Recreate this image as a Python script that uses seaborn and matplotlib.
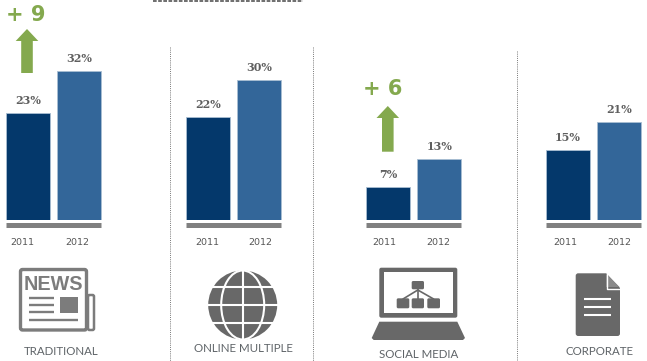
import matplotlib
matplotlib.use("Agg")
import matplotlib.pyplot as plt
import seaborn as sns
import pandas as pd
from matplotlib.patches import Polygon, Rectangle, FancyBboxPatch, Circle, Ellipse

years = ["2011", "2012"]
traditional = [23, 32]
online_multiple = [22, 30]
social_media = [7, 13]
corporate = [15, 21]
group_names = ["TRADITIONAL", "ONLINE MULTIPLE", "SOCIAL MEDIA", "CORPORATE"]
series = [traditional, online_multiple, social_media, corporate]
changes = ["+ 9", None, "+ 6", None]

W, H = 647, 361
DARK, BLUE, GRAY, GREEN, ICON, TXT = "#04386B", "#336699", "#808080", "#84A94E", "#686868", "#5F6468"

sns.set_theme(style="white")
plt.rcParams["font.family"] = ["DejaVu Sans"]
fig = plt.figure(figsize=(W / 100, H / 100), dpi=100, facecolor="white")

PX_PER = 4.67
lefts = [2, 182, 362, 542]
tick_px = [(22.5, 77), (207, 260.5), (384, 438), (565.7, 619)]
for name, vals, left, tp in zip(group_names, series, lefts, tick_px):
    ax = fig.add_axes([left / W, (H - 220) / H, 103 / W, 200 / H])
    df = pd.DataFrame({"year": years, "value": vals})
    sns.barplot(data=df, x="year", y="value", hue="year", palette=[DARK, BLUE], saturation=1,
                width=0.845, legend=False, ax=ax, edgecolor="#A9BED3", linewidth=0.6)
    ax.set_xlim(-0.5, 1.5)
    ax.set_ylim(0, 200 / PX_PER)
    ax.set_xlabel(""); ax.set_ylabel(""); ax.set_yticks([])
    ax.set_xticks([(p - left) / 51.5 - 0.5 for p in tp], years)
    ax.tick_params(axis="x", length=0, pad=9.5, labelsize=6.8, labelcolor="#555555")
    for lab in ax.get_xticklabels():
        lab.set_family("DejaVu Serif")
    for s in ("top", "left", "right"):
        ax.spines[s].set_visible(False)
    ax.spines["bottom"].set_position(("outward", 3.3))
    ax.spines["bottom"].set_linewidth(3.6)
    ax.spines["bottom"].set_color(GRAY)
    ax.spines["bottom"].set_capstyle("butt")
    ax.spines["bottom"].set_bounds(-0.43, 1.42)
    ax.patch.set_alpha(0)
    for c in ax.containers:
        ax.bar_label(c, fmt="%g%%", padding=5, fontsize=8, color="#5F5F5F",
                     fontweight="bold", family="DejaVu Serif")

ov = fig.add_axes([0, 0, 1, 1], zorder=5)
ov.set_xlim(0, W); ov.set_ylim(H, 0); ov.axis("off"); ov.patch.set_alpha(0)

# separators
for x, y0 in [(169.5, 47), (312.5, 47), (516.5, 51)]:
    ov.plot([x, x], [y0, H], color="#777777", lw=0.7, ls=(0, (1, 1.2)))

# arrows and change labels
def arrow(cx, tip, hb, bot, hw=11.3, sw=5.8):
    ov.add_patch(Polygon([(cx, tip), (cx + hw, hb), (cx + sw, hb), (cx + sw, bot),
                          (cx - sw, bot), (cx - sw, hb), (cx - hw, hb)], fc=GREEN, ec="none"))
arrow(27, 29, 41, 73)
arrow(387.8, 106, 118, 151.7)
ov.text(26, 15, changes[0], color=GREEN, fontsize=15, ha="center", va="center",
        fontweight="semibold")
ov.text(382.7, 89, changes[2], color=GREEN, fontsize=15, ha="center", va="center",
        fontweight="semibold")

# illegible sliver of cropped text at the top edge, shown as a faint mark
ov.plot([153, 303], [0.8, 0.8], color="#555555", lw=1.2, ls=(0, (2.2, 0.9)))

# newspaper icon
NEWS = "#7C7C7C"
ov.add_patch(FancyBboxPatch((88, 295), 6, 35, boxstyle="round,pad=0,rounding_size=1.5", fc="white", ec=NEWS, lw=1.8))
ov.add_patch(FancyBboxPatch((20.5, 269.5), 66, 60.5, boxstyle="round,pad=0,rounding_size=2", fc="white", ec=NEWS, lw=2.4))
ov.text(53.5, 284, "NEWS", color=NEWS, fontsize=14.2, fontweight="bold", family="Liberation Sans", ha="center", va="center")
for y, x1 in [(297.7, 54), (304.6, 54), (312.3, 54), (320, 78)]:
    ov.plot([29, x1], [y, y], color=NEWS, lw=1.7, solid_capstyle="butt")
ov.add_patch(Rectangle((60, 297), 18, 16, fc=NEWS, ec="none"))

# globe icon
gx, gy, r = 242.7, 305, 34.5
ov.add_patch(Circle((gx, gy), r, fc=ICON, ec="none"))
for dy in (-18.3, 0, 18.3):
    ov.plot([gx - r - 1, gx + r + 1], [gy + dy, gy + dy], color="white", lw=1.5)
ov.plot([gx, gx], [gy - r - 1, gy + r + 1], color="white", lw=1.5)
ov.add_patch(Ellipse((gx, gy), 43, 2 * r, fc="none", ec="white", lw=1.5))

# laptop icon
ov.add_patch(FancyBboxPatch((379.3, 267.7), 78, 50, boxstyle="round,pad=0,rounding_size=2", fc=ICON, ec="none"))
ov.add_patch(Rectangle((384, 272.3), 68.7, 41, fc="white", ec="none"))
ov.add_patch(Polygon([(379.3, 321.7), (457.3, 321.7), (465, 338), (463, 340), (373.7, 340), (371.7, 338)], fc=ICON, ec="none"))
ov.plot([417.8, 417.8], [289, 299], color=ICON, lw=1.2)
ov.plot([403, 417.8, 433.6], [299, 290, 299], color=ICON, lw=1.2)
for x0, y0, w, h in [(411.7, 281, 12.3, 8.3), (396.7, 298.3, 12.6, 10), (411.7, 298.3, 12.3, 10), (427.3, 298.3, 12.7, 10)]:
    ov.add_patch(FancyBboxPatch((x0, y0), w, h, boxstyle="round,pad=0,rounding_size=1.5", fc=ICON, ec="none"))

# document icon
ov.add_patch(FancyBboxPatch((575.7, 273.3), 44.3, 62.7, boxstyle="round,pad=0,rounding_size=2.5", fc=ICON, ec="none"))
ov.add_patch(Polygon([(604.5, 272), (621, 272), (621, 288.5)], fc="white", ec="none"))
ov.add_patch(Polygon([(606, 273.5), (619.5, 287), (606, 287)], fc="#8A8A8A", ec="none"))
ov.plot([606.5, 606.5, 620], [273.5, 288.5, 288.5], color="white", lw=1)
for y in (299, 306.7, 315):
    ov.plot([584.3, 611], [y, y], color="white", lw=1.5, solid_capstyle="butt")

# group labels
for name, x, y in zip(group_names, [61, 243, 419, 600], [351.7, 349, 354, 351.7]):
    ov.text(x, y, name, color=TXT, fontsize=8.3, family="Lato", ha="center", va="center")

fig.savefig("out.png", dpi=100, facecolor="white")
